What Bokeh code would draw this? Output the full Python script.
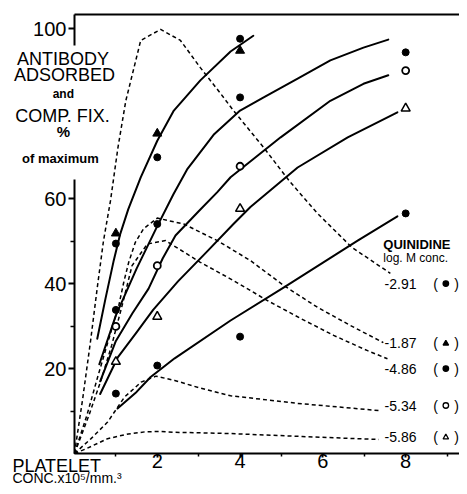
from bokeh.plotting import figure
from bokeh.models import FixedTicker, Label, BoxAnnotation, ColumnDataSource
from bokeh.core.properties import value
from bokeh.embed import file_html
from bokeh.resources import INLINE

# ---------------- data ----------------
# solid curves: antibody adsorbed
curve_a_x = [0.55, 0.75, 0.95, 1.1, 1.3, 1.6, 2.0, 2.4, 3.04, 3.77, 4.32]
curve_a_y = [27, 36.5, 45.5, 51.5, 57.5, 65, 73.6, 80.7, 87.8, 94.6, 98.3]
curve_b_x = [0.6, 1.0, 1.5, 2.0, 2.39, 2.73, 3.36, 4.0, 4.57, 5.39, 6.18, 6.98, 7.58]
curve_b_y = [21, 32.5, 43.5, 53.5, 61, 67, 75, 80.7, 83.8, 88.2, 92.5, 95.5, 97.4]
curve_c_x = [0.62, 1.0, 1.4, 1.79, 2.13, 2.44, 3.0, 3.45, 3.77, 4.98, 6.18, 6.98, 7.58]
curve_c_y = [17, 26.5, 33, 38.8, 45.9, 51.3, 57, 61.5, 65, 74.4, 83, 87, 89]
curve_d_x = [0.62, 1.05, 1.5, 1.9, 2.5, 3.2, 3.84, 4.25, 5.39, 6.6, 7.8]
curve_d_y = [14, 22.7, 28.5, 33.8, 40.5, 47.5, 54, 58, 67.3, 74.4, 80.3]
curve_e_x = [1.04, 1.5, 1.84, 2.42, 3.77, 5.06, 6.84, 7.8]
curve_e_y = [10.6, 14.5, 18, 22.4, 31.3, 39.1, 50.1, 55.8]

# dashed curves: complement fixation
dash_291_x = [0, 0.2, 0.39, 0.55, 0.7, 0.87, 1.05, 1.24, 1.6, 2.08, 2.56, 3.04, 3.53, 3.84, 4.57, 5.2, 5.87, 6.7, 7.63]
dash_291_y = [0, 13, 26.6, 39, 50, 59.5, 72, 83, 97.2, 99.8, 97.2, 90.8, 84.7, 80.7, 72, 64, 56.5, 48.5, 42.4]
dash_187_x = [0, 0.3, 0.56, 0.8, 1.07, 1.19, 1.31, 1.47, 1.67, 2.0, 2.64, 3.45, 4.25, 5.06, 5.87, 6.67, 7.46]
dash_187_y = [0, 9, 18, 26, 34.8, 40.3, 45, 49.7, 52.9, 55.4, 54, 50.1, 45.4, 39.5, 34.4, 30.1, 26.1]
dash_486_x = [0, 0.35, 0.65, 0.9, 1.15, 1.39, 1.76, 2.2, 3.04, 3.84, 4.66, 5.46, 6.26, 7.08, 7.56]
dash_486_y = [0, 9, 17.5, 25.5, 34.8, 44.2, 49.3, 50.1, 45, 40.7, 36, 31.8, 27.8, 24.2, 22.3]
dash_534_x = [0, 0.4, 0.8, 1.21, 1.61, 1.97, 2.42, 3.0, 3.77, 5.39, 7.35]
dash_534_y = [0, 3.5, 7.4, 13.3, 16.8, 18.2, 17.2, 15.5, 13.6, 11.8, 10.1]
dash_586_x = [0, 0.3, 0.8, 1.3, 1.7, 2.1, 2.42, 3.77, 5.5, 7.35]
dash_586_y = [0, 1.2, 3.5, 4.6, 5.1, 5.2, 5.0, 4.7, 4.0, 3.3]

# measured points
dots_x = [1, 2, 4, 1, 2, 4, 8, 1, 2, 4, 8]
dots_y = [49.4, 69.7, 97.6, 33.8, 54, 83.8, 94.4, 14.1, 20.7, 27.5, 56.5]
tri_x = [1, 2, 4]
tri_y = [51.8, 75.3, 94.8]
ring_x = [1, 2, 4, 8]
ring_y = [29.9, 44.2, 67.6, 90.1]
opentri_x = [1, 2, 4, 8]
opentri_y = [21.6, 32.2, 57.6, 81.2]

# quinidine legend
quin_labels = ["-2.91", "-1.87", "-4.86", "-5.34", "-5.86"]
quin_markers = ["circle", "triangle", "circle", "circle", "triangle"]
quin_fills = ["black", "black", "black", "white", "white"]

x_ticks = [2, 4, 6, 8]
x_minor = [1, 3, 5, 7, 9]
y_ticks = [20, 40, 60, 100]
y_minor = [10, 30, 50]

# ---------------- layout ----------------
FONT = "Liberation Sans"
X0, X1 = -1.787, 9.30
Y0, Y1 = -7.76, 106.6
TOP = 103.3
legend_rows = [40, 25.9, 20, 11.3, 3.8]

p = figure(width=459, height=486, x_range=(X0, X1), y_range=(Y0, Y1),
           output_backend="svg", toolbar_location=None,
           min_border_left=0, min_border_right=0, min_border_top=0, min_border_bottom=0)
p.xgrid.visible = False
p.ygrid.visible = False
p.outline_line_color = None
p.background_fill_color = "white"
p.border_fill_color = "white"

p.xaxis.ticker = FixedTicker(ticks=x_ticks, minor_ticks=x_minor)
p.yaxis.ticker = FixedTicker(ticks=y_ticks, minor_ticks=y_minor)
p.xaxis.fixed_location = 0
p.yaxis.fixed_location = 0
p.xaxis.bounds = (0, X1)
p.yaxis.bounds = (0, TOP)
for ax in (p.xaxis, p.yaxis):
    ax.axis_line_width = 2
    ax.axis_line_color = "black"
    ax.major_tick_line_width = 2
    ax.minor_tick_line_width = 1.5
    ax.major_tick_in = 0
    ax.minor_tick_in = 0
    ax.major_label_text_font = FONT
    ax.major_label_text_font_size = "20px"
    ax.major_label_text_color = "black"
p.xaxis.major_tick_out = 4
p.xaxis.minor_tick_out = 3
p.xaxis.major_label_standoff = -4
p.yaxis.major_tick_out = 6
p.yaxis.minor_tick_out = 4
p.yaxis.major_label_standoff = 2

# top frame line
p.segment(x0=[0], y0=[TOP], x1=[X1], y1=[TOP], line_width=2, line_color="black")

solid = [(curve_a_x, curve_a_y), (curve_b_x, curve_b_y), (curve_c_x, curve_c_y),
         (curve_d_x, curve_d_y), (curve_e_x, curve_e_y)]
for xs, ys in solid:
    p.line(xs, ys, line_width=2, line_color="black", line_join="round", line_cap="round")

dashed = [(dash_291_x, dash_291_y), (dash_187_x, dash_187_y), (dash_486_x, dash_486_y),
          (dash_534_x, dash_534_y), (dash_586_x, dash_586_y)]
for xs, ys in dashed:
    p.line(xs, ys, line_width=1.5, line_color="black", line_dash="4 3", line_join="round")

p.scatter(dots_x, dots_y, marker="circle", size=7, fill_color="black", line_color="black")
p.scatter(tri_x, tri_y, marker="triangle", size=9, fill_color="black", line_color="black")
p.scatter(ring_x, ring_y, marker="circle", size=7, fill_color="white", line_color="black", line_width=1.8)
p.scatter(opentri_x, opentri_y, marker="triangle", size=9, fill_color="white", line_color="black", line_width=1.5)

# legend on the right
src = ColumnDataSource(dict(y=legend_rows, label=quin_labels, marker=quin_markers, fill=quin_fills))
p.text(x=7.49, y="y", text="label", source=src, text_font=value(FONT), text_font_size="14px",
       text_baseline="middle", text_align="left", text_color="black")
p.text(x=8.72, y="y", text=value("("), source=src, text_font=value(FONT), text_font_size="14px",
       text_baseline="middle", text_align="center", text_color="black")
p.text(x=9.23, y="y", text=value(")"), source=src, text_font=value(FONT), text_font_size="14px",
       text_baseline="middle", text_align="center", text_color="black")
p.scatter(x=8.97, y="y", marker="marker", fill_color="fill", source=src, size=5.5,
          line_color="black", line_width=1.3)
p.text(x=[7.46], y=[49.1], text=["QUINIDINE"], text_font=value(FONT), text_font_size="13px",
       text_font_style="bold", text_baseline="middle", text_align="left", text_color="black")
p.text(x=[7.46], y=[46.0], text=["log. M conc."], text_font=value(FONT), text_font_size="12px",
       text_baseline="middle", text_align="left", text_color="black")

# gap in the y axis for the title
p.add_layout(BoxAnnotation(left=-0.2, right=0.08, bottom=64.5, top=96, fill_color="white",
                           fill_alpha=1, line_color=None))

title_rows = [
    ("ANTIBODY", -0.28, 92.8, "18px", "normal"),
    ("ADSORBED", -0.24, 89.1, "18px", "normal"),
    ("and", -0.27, 84.7, "12px", "bold"),
    ("COMP. FIX.", -0.29, 79.5, "18px", "normal"),
    ("%", -0.27, 75.8, "15px", "bold"),
    ("of maximum", -0.34, 69.4, "13px", "bold"),
]
for t, x, y, fs, st in title_rows:
    p.add_layout(Label(x=x, y=y, text=t, text_align="center", text_baseline="middle",
                       text_font=FONT, text_font_size=fs, text_font_style=st, text_color="black"))

p.add_layout(Label(x=-1.5, y=-2.9, text="PLATELET", text_align="left", text_baseline="middle",
                   text_font=FONT, text_font_size="18px", text_color="black"))
p.add_layout(Label(x=-1.5, y=-5.75, text="CONC.x10\u2075/mm.\u00b3", text_align="left",
                   text_baseline="middle", text_font=FONT, text_font_size="14px", text_color="black"))

open("out.html", "w").write(file_html(p, INLINE))
